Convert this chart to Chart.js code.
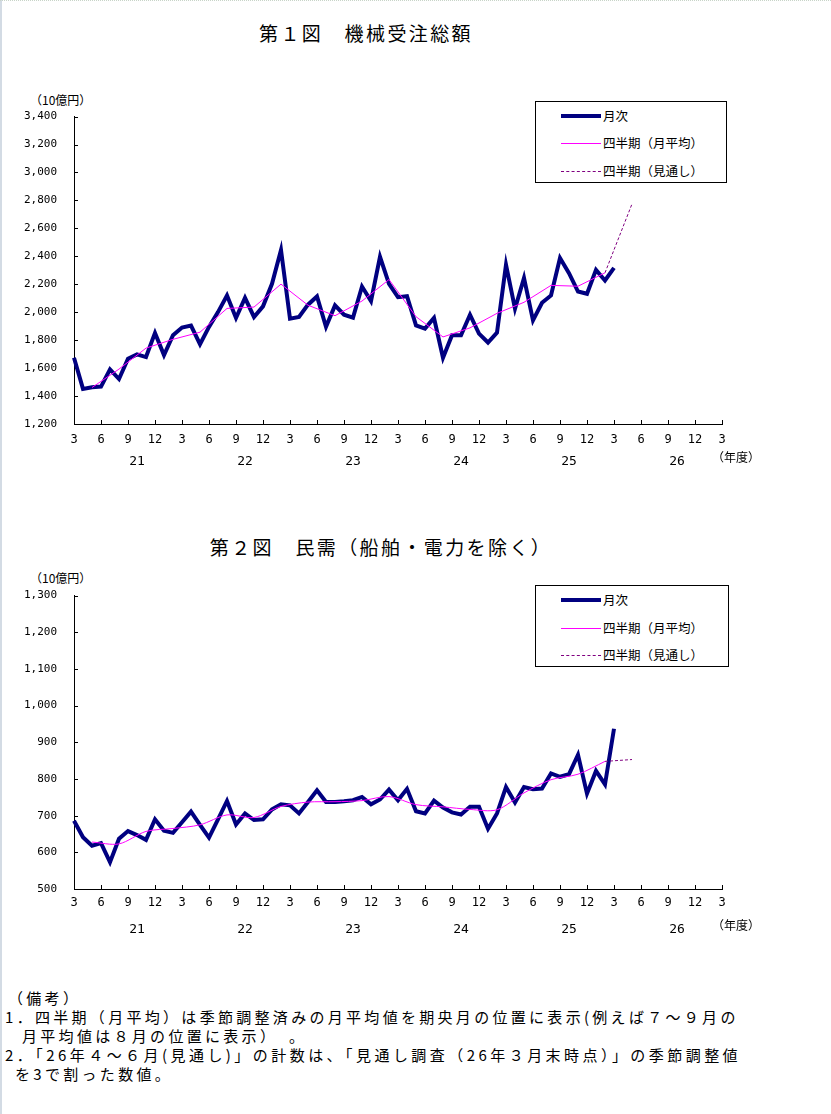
<!DOCTYPE html>
<html lang="ja">
<head>
<meta charset="utf-8">
<title>機械受注</title>
<script src="https://cdn.jsdelivr.net/npm/chart.js@4.4.1/dist/chart.umd.min.js"></script>
<style>
  html, body { margin:0; padding:0; background:#fff; }
  body { width:831px; height:1114px; position:relative; overflow:hidden;
         font-family:"Noto Sans CJK JP","Noto Sans",sans-serif; color:#000; }
  .abs { position:absolute; white-space:nowrap; }
  .title { font-size:19px; line-height:20px; letter-spacing:2.4px; transform:translateX(-50%); }
  .unit { font-size:12px; line-height:14px; }
  .note { font-size:15px; line-height:19px; letter-spacing:3.3px; }
  .legend { position:absolute; border:1px solid #000; background:#fff; box-sizing:border-box; }
  .legend .row { position:absolute; left:0; width:100%; height:16px; }
  .legend .sw { position:absolute; left:25px; width:40px; top:50%; }
  .legend .tx { position:absolute; left:67px; top:0; font-size:12.5px; line-height:16px; white-space:nowrap; }
  canvas { position:absolute; left:0; }
</style>
</head>
<body>
<div class="abs" style="left:0;top:0;width:2px;height:1114px;background:#d3dbe4;"></div>
<div class="abs" style="left:0;top:0;width:831px;height:0;border-top:1px dotted #c8d4c8;"></div>

<div class="abs title" style="left:366px;top:23px;">第１図　機械受注総額</div>
<div class="abs unit" style="left:30px;top:93px;">（10億円）</div>
<canvas id="chart1" width="831" height="387" style="top:93px;"></canvas>
<div class="abs unit" style="left:712px;top:450px;">（年度）</div>
<div class="legend" style="left:535px;top:101px;width:192px;height:82px;">
  <div class="row" style="top:6px;"><div class="sw" style="border-top:4px solid #000080;margin-top:-2px;"></div><div class="tx">月次</div></div>
  <div class="row" style="top:33px;"><div class="sw" style="border-top:1px solid #ff00ff;"></div><div class="tx">四半期（月平均）</div></div>
  <div class="row" style="top:61px;"><div class="sw" style="border-top:1px dashed #800080;"></div><div class="tx">四半期（見通し）</div></div>
</div>

<div class="abs title" style="left:381px;top:537px;">第２図　民需（船舶・電力を除く）</div>
<div class="abs unit" style="left:30px;top:571px;">（10億円）</div>
<canvas id="chart2" width="831" height="373" style="top:572px;"></canvas>
<div class="abs unit" style="left:712px;top:918px;">（年度）</div>
<div class="legend" style="left:535px;top:585px;width:194px;height:82px;">
  <div class="row" style="top:6px;"><div class="sw" style="border-top:4px solid #000080;margin-top:-2px;"></div><div class="tx">月次</div></div>
  <div class="row" style="top:34px;"><div class="sw" style="border-top:1px solid #ff00ff;"></div><div class="tx">四半期（月平均）</div></div>
  <div class="row" style="top:61px;"><div class="sw" style="border-top:1px dashed #800080;"></div><div class="tx">四半期（見通し）</div></div>
</div>

<div class="abs note" style="left:8px;top:988px;">（備考）</div>
<div class="abs note" style="left:5px;top:1007px;">1．四半期（月平均）は季節調整済みの月平均値を期央月の位置に表示(例えば７～９月の</div>
<div class="abs note" style="left:22px;top:1026px;">月平均値は８月の位置に表示）　。</div>
<div class="abs note" style="left:5px;top:1045px;letter-spacing:3.45px;">2．「26年４～６月(見通し)」の計数は、「見通し調査（26年３月末時点）」の季節調整値</div>
<div class="abs note" style="left:15px;top:1064px;">を3で割った数値。</div>

<script>
// ---- data (index 0 = 2009年3月, one category per month up to 2015年3月) ----
const tickLabels = ['3','6','9','12','3','6','9','12','3','6','9','12','3','6','9','12',
                    '3','6','9','12','3','6','9','12','3'];
const years = ['21','22','23','24','25','26'];

const categories = [];
for (let i = 0; i < 73; i++) categories.push('m' + i);

// quarter mid-month positions (category index) and forecast positions
const quarterIdx = [2,5,8,11,14,17,20,23,26,29,32,35,38,41,44,47,50,53,56,59];
const forecastIdx = [59, 62];

// 第1図 機械受注総額
const monthly1 = [1674,1451,1463,1468,1591,1522,1667,1698,1679,1852,
                  1693,1835,1890,1904,1771,1895,2001,2120,1959,2103,
                  1966,2042,2203,2445,1954,1966,2054,2113,1895,2049,
                  1982,1961,2184,2080,2397,2203,2108,2115,1906,1883,
                  1959,1674,1835,1835,1982,1847,1783,1854,2340,2025,
                  2246,1942,2068,2120,2388,2279,2148,2132,2303,2227,2317];
const quarterly1 = [1461,1593,1743,1806,1857,2027,2037,2201,2050,1975,
                    2080,2234,1968,1823,1888,1992,2071,2192,2186,2282];
const forecast1 = [2282, 2775];

// 第2図 民需（船舶・電力を除く）
const monthly2 = [686,641,618,625,573,637,658,647,634,690,
                  659,653,682,711,675,640,690,740,676,706,
                  688,690,717,731,728,706,737,769,737,737,
                  739,742,751,731,744,771,742,773,712,706,
                  741,722,709,703,724,724,664,706,778,736,
                  778,772,774,815,806,813,866,760,822,785,937];
const quarterly2 = [628,623,657,665,675,702,695,725,737,738,
                    741,752,730,724,717,716,762,798,813,848];
const forecast2 = [848, 853];

// ---- chart setup ----
const numFont = { family: 'DejaVu Sans Mono', size: 11 };

const innerTicks = {
  id: 'innerTicks',
  beforeDatasetsDraw(chart){
    const { ctx, chartArea, scales } = chart;
    ctx.save();
    ctx.strokeStyle = '#000';
    ctx.lineWidth = 1;
    ctx.beginPath();
    scales.y.ticks.forEach((t, i) => {
      const y = Math.round(scales.y.getPixelForTick(i)) + 0.5;
      ctx.moveTo(chartArea.left, y);
      ctx.lineTo(chartArea.left + 4, y);
    });
    scales.x.ticks.forEach((t, i) => {
      if (i % 3 !== 0) return;
      const x = Math.round(scales.x.getPixelForTick(i)) + 0.5;
      ctx.moveTo(x, chartArea.bottom);
      ctx.lineTo(x, chartArea.bottom - 4);
    });
    ctx.stroke();
    ctx.restore();
  }
};

function pts(idx, vals){
  return vals.map((v, k) => ({ x: categories[idx[k]], y: v }));
}

function makeChart(id, o){
  return new Chart(document.getElementById(id), {
    type: 'line',
    data: {
      labels: categories,
      datasets: [
        { label: '四半期（月平均）', data: pts(quarterIdx, o.quarterly), borderColor: '#ff00ff',
          borderWidth: 1, pointRadius: 0, tension: o.tension, order: 0 },
        { label: '四半期（見通し）', data: pts(forecastIdx, o.forecast), borderColor: '#800080',
          borderWidth: 1, borderDash: [3, 2], pointRadius: 0, order: 1 },
        { label: '月次', data: o.monthly, borderColor: '#000080',
          borderWidth: 4, pointRadius: 0, tension: 0, order: 2 }
      ]
    },
    options: {
      responsive: false,
      animation: false,
      events: [],
      layout: { padding: { left: 0, right: 109, top: 8, bottom: 0 } },
      plugins: { legend: { display: false }, tooltip: { enabled: false } },
      scales: {
        x: {
          type: 'category', position: 'bottom', weight: 0,
          grid: { display: false, drawTicks: false },
          border: { display: true, color: '#000', width: 1 },
          ticks: { autoSkip: false, maxRotation: 0, minRotation: 0, padding: o.xPad,
                   color: '#000', font: { family: 'DejaVu Sans Mono', size: 12 },
                   callback: (v, i) => i % 3 === 0 ? tickLabels[i / 3] : '' },
          afterFit(s){ s.height = 26; }
        },
        x2: {
          type: 'category', position: 'bottom', weight: 1, labels: categories,
          grid: { display: false, drawTicks: false },
          border: { display: false },
          ticks: { autoSkip: false, maxRotation: 0, minRotation: 0, padding: o.x2Pad,
                   color: '#000', font: { family: 'DejaVu Sans Mono', size: 13 },
                   callback: (v, i) => (i - 7) % 12 === 0 ? years[(i - 7) / 12] : '' },
          afterFit(s){ s.height = 30; }
        },
        y: {
          min: o.min, max: o.max,
          grid: { display: false, drawTicks: false },
          border: { display: true, color: '#000', width: 1 },
          ticks: { stepSize: o.step, padding: 17, color: '#000', font: numFont,
                   callback: v => v.toLocaleString('en-US') },
          afterFit(s){ s.width = 74; }
        }
      }
    },
    plugins: [innerTicks]
  });
}

makeChart('chart1', { monthly: monthly1, quarterly: quarterly1, forecast: forecast1,
  min: 1200, max: 3400, step: 200, xPad: 9, x2Pad: 4, tension: 0 });
makeChart('chart2', { monthly: monthly2, quarterly: quarterly2, forecast: forecast2,
  min: 500, max: 1300, step: 100, xPad: 7, x2Pad: 7, tension: 0.3 });
</script>
</body>
</html>
